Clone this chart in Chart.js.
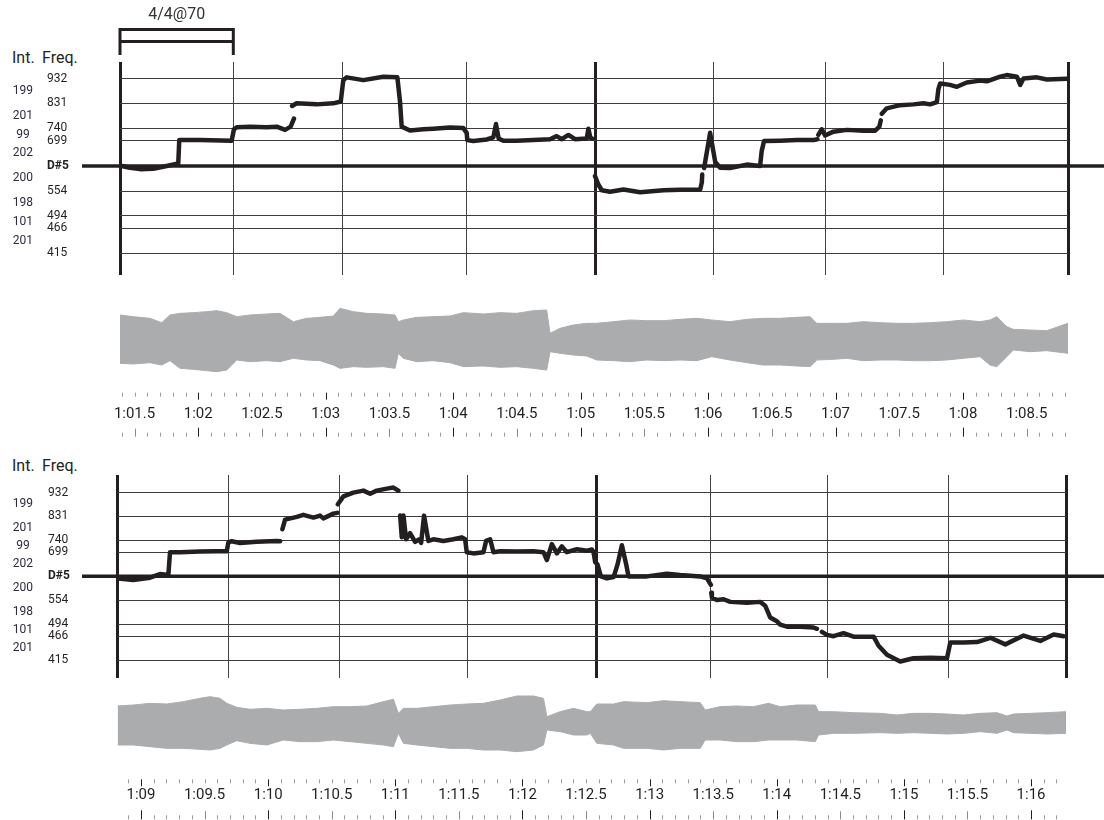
<!DOCTYPE html>
<html>
<head>
<meta charset="utf-8">
<script src="https://cdn.jsdelivr.net/npm/chart.js@4.4.1/dist/chart.umd.min.js"></script>
<style>
  html, body { margin: 0; padding: 0; background: #fff; }
  body { width: 1104px; height: 820px; position: relative; overflow: hidden;
         font-family: Roboto, "Noto Sans", sans-serif; color: #231f20; }
  canvas { position: absolute; left: 0; }
  .hdr { position: absolute; font-size: 16px; line-height: 16px; white-space: nowrap; }
</style>
</head>
<body>
<div class="hdr" style="left:12px;top:50px">Int.</div>
<div class="hdr" style="left:42px;top:50px">Freq.</div>
<div class="hdr" style="left:12px;top:458px">Int.</div>
<div class="hdr" style="left:42px;top:458px">Freq.</div>

<canvas id="pitch1" width="1104" height="290" style="top:0"></canvas>
<canvas id="wave1" width="1104" height="160" style="top:290px"></canvas>
<canvas id="pitch2" width="1104" height="240" style="top:450px"></canvas>
<canvas id="wave2" width="1104" height="140" style="top:680px"></canvas>

<script>
// ---- reference pitches (Hz) and the interval (cents) between neighbouring lines ----
const D5 = 622.25;
const FREQ_LINES  = [932, 831, 740, 699, D5, 554, 494, 466, 415];
const FREQ_LABELS = ['932', '831', '740', '699', 'D#5', '554', '494', '466', '415'];
const INTERVALS   = [199, 201, 99, 202, 200, 198, 101, 201];
const METER = '4/4@70';

// ---- beat times (s); every fourth is a bar line ----
const BEATS_1 = [61.386, 62.275, 63.130, 64.103, 65.113, 66.041, 66.925, 67.846, 68.824];
const BEATS_2 = [68.815, 69.687, 70.560, 71.567, 72.580, 73.482, 74.397, 75.347, 76.275];

// ---- pitch track, first system (time s / frequency Hz, null = unvoiced) ----
const PITCH1_T = [
  61.399, 61.464, 61.543, 61.647, 61.752, 61.843, 61.851, 62.014, 62.262, 62.280,
  62.302, 62.406, 62.537, 62.616, 62.681, 62.725, 62.751, 62.744,
  62.736, 62.772, 62.929, 63.060, 63.118, 63.138, 63.165, 63.295, 63.452, 63.562,
  63.583, 63.596, 63.661, 63.766, 63.844, 63.975, 64.080, 64.106, 64.111, 64.158,
  64.263, 64.315, 64.336, 64.357, 64.394, 64.498, 64.629, 64.760, 64.812, 64.852,
  64.904, 64.956, 65.048, 65.061, 65.077, 65.092, 65.102,
  65.113, 65.139, 65.166, 65.231, 65.336, 65.467, 65.650, 65.781, 65.938, 65.951,
  65.954, 65.961,
  65.969, 66.016, 66.056, 66.095, 66.173, 66.304, 66.408, 66.421, 66.439, 66.565,
  66.696, 66.826, 66.858, 66.861,
  66.865, 66.892, 66.918, 66.983, 67.088, 67.219, 67.311, 67.344, 67.355, 67.359,
  67.363, 67.402, 67.507, 67.611, 67.690, 67.742, 67.795, 67.807, 67.821, 67.899,
  67.952, 68.030, 68.135, 68.187, 68.292, 68.344, 68.423, 68.449, 68.475, 68.580,
  68.658, 68.815
];
const PITCH1_F = [
  622, 617, 613, 614, 622, 629, 701, 701, 699, 737,
  744, 746, 744, 746, 735, 746, 774, null,
  821, 831, 827, 831, 838, 925, 937, 925, 940, 937,
  838, 746, 733, 737, 739, 743, 741, 725, 701, 698,
  703, 710, 755, 706, 699, 699, 701, 704, 714, 704,
  718, 704, 706, 739, 708, 706, null,
  593.5, 571, 556, 552, 558, 551, 556, 557, 558, 576,
  598, null,
  616, 725, 634, 617, 616, 626, 622, 667, 698, 699,
  701, 701, 704, null,
  718, 737, 716, 729, 735, 732, 732, 746, 768, null,
  792, 812, 824, 827, 831, 827, 836, 887, 911, 905,
  897, 915, 923, 920, 940, 947, 940, 905, 932, 937,
  928, 931
];

// ---- pitch track, second system ----
const PITCH2_T = [
  68.821, 68.939, 69.071, 69.149, 69.215, 69.228, 69.307, 69.464, 69.595, 69.674,
  69.687, 69.713, 69.779, 69.910, 70.068, 70.094, 70.103,
  70.112, 70.133, 70.225, 70.277, 70.356, 70.408, 70.434, 70.513, 70.544, 70.546,
  70.548, 70.592, 70.670, 70.749, 70.802, 70.854, 70.933, 70.985, 71.024, 71.031,
  71.038, 71.051, 71.064, 71.085, 71.116, 71.156, 71.190, 71.203, 71.226, 71.260,
  71.300, 71.378, 71.457, 71.523, 71.549, 71.562, 71.614, 71.693, 71.714, 71.746,
  71.772, 71.825, 71.956, 72.086, 72.165, 72.192, 72.231, 72.271, 72.310, 72.349,
  72.428, 72.507, 72.546, 72.559, 72.572, 72.590, 72.617, 72.664, 72.717, 72.748,
  72.782, 72.816, 72.834, 72.979, 73.136, 73.241, 73.398, 73.451, 73.482, 73.484,
  73.485, 73.490, 73.529, 73.582, 73.634, 73.766, 73.870, 73.909, 73.949, 74.001,
  74.027, 74.080, 74.185, 74.289, 74.316, 74.335,
  74.355, 74.394, 74.447, 74.525, 74.604, 74.762, 74.801, 74.867, 74.971, 75.076,
  75.208, 75.339, 75.365, 75.470, 75.575, 75.680, 75.798, 75.942, 76.073, 76.178,
  76.257
];
const PITCH2_F = [
  615.6, 611, 618, 629, 626, 699, 699, 701, 702, 702,
  733, 737, 731, 735, 738, 737, null,
  781, 818, 829, 837, 826, 834, 823, 842, 845, null,
  881, 915, 932, 941, 927, 941, 950, 955, 941, null,
  834, 751, 834, 744, 766, 735, 744, 731, 834, 738,
  744, 738, 744, 751, 744, 699, 695, 699, 738, 744,
  699, 702, 701, 702, 699, 673, 727, 695, 719, 699,
  709, 704, 708, 699, 666, 659, 622, 616, 620, 659,
  723, 659, 622, 622, 630, 626, 622, 616, 597, null,
  575, 562, 555, 557, 550, 548, 550, 540, 510, 501,
  493, 488, 488, 486, 483, null,
  476, 469, 466, 473, 465, 465, 445, 426, 412.5, 419,
  420, 419, 452, 452, 453, 462.5, 448, 467.5, 455.5, 470,
  466
];

// ---- waveform envelopes (time s, normalised peak amplitude above / below zero) ----
const WAVE1_T = [
  61.386, 61.490, 61.621, 61.713, 61.778, 61.857, 61.961, 62.066, 62.145, 62.223,
  62.302, 62.406, 62.537, 62.641, 62.746, 62.851, 62.955, 63.060, 63.112, 63.217,
  63.321, 63.452, 63.544, 63.570, 63.609, 63.714, 63.844, 63.975, 64.080, 64.237,
  64.368, 64.499, 64.629, 64.734, 64.760, 64.838, 64.943, 65.048, 65.126, 65.257,
  65.388, 65.519, 65.650, 65.781, 65.911, 66.029, 66.172, 66.303, 66.434, 66.565,
  66.696, 66.800, 66.853, 66.983, 67.088, 67.218, 67.349, 67.480, 67.611, 67.742,
  67.872, 68.003, 68.134, 68.212, 68.265, 68.344, 68.395, 68.526, 68.657, 68.824
];
const WAVE1_HI = [
  .743, .695, .648, .524, .743, .790, .810, .838, .867, .810,
  .695, .743, .771, .790, .552, .648, .676, .714, .933, .838,
  .790, .771, .743, .552, .600, .676, .695, .714, .810, .771,
  .810, .790, .867, .886, .219, .362, .457, .505, .505, .552,
  .600, .581, .581, .619, .648, .600, .552, .619, .648, .648,
  .676, .695, .505, .505, .505, .552, .524, .505, .505, .524,
  .552, .600, .552, .600, .695, .410, .333, .314, .295, .505
];
const WAVE1_LO = [
  -.638, -.657, -.619, -.686, -.562, -.781, -.810, -.848, -.876, -.829,
  -.543, -.590, -.562, -.590, -.495, -.543, -.562, -.686, -.781, -.733,
  -.752, -.733, -.781, -.352, -.495, -.590, -.562, -.619, -.733, -.714,
  -.752, -.733, -.781, -.829, -.305, -.352, -.400, -.429, -.543, -.562,
  -.590, -.543, -.562, -.543, -.562, -.448, -.543, -.619, -.686, -.686,
  -.714, -.733, -.543, -.524, -.495, -.562, -.543, -.543, -.562, -.562,
  -.543, -.495, -.448, -.686, -.733, -.448, -.257, -.305, -.276, -.352
];

const WAVE2_T = [
  68.815, 68.939, 69.071, 69.202, 69.333, 69.464, 69.543, 69.622, 69.674, 69.753,
  69.857, 69.989, 70.119, 70.251, 70.382, 70.513, 70.644, 70.776, 70.906, 70.985,
  71.024, 71.064, 71.169, 71.300, 71.431, 71.562, 71.693, 71.824, 71.956, 72.086,
  72.165, 72.192, 72.297, 72.401, 72.507, 72.533, 72.585, 72.716, 72.795, 72.979,
  73.109, 73.241, 73.398, 73.437, 73.555, 73.686, 73.817, 73.935, 74.027, 74.159,
  74.303, 74.329, 74.447, 74.604, 74.814, 74.945, 75.076, 75.208, 75.339, 75.470,
  75.601, 75.732, 75.811, 75.863, 75.994, 76.125, 76.275
];
const WAVE2_HI = [
  .543, .571, .619, .600, .667, .762, .810, .762, .619, .505,
  .448, .476, .429, .448, .476, .524, .524, .543, .667, .733,
  .333, .476, .476, .524, .571, .600, .619, .714, .829, .829,
  .762, .238, .381, .476, .381, .381, .600, .600, .667, .638,
  .695, .667, .638, .429, .524, .543, .524, .619, .524, .571,
  .571, .381, .381, .352, .333, .286, .333, .333, .314, .286,
  .333, .352, .257, .314, .333, .352, .381
];
const WAVE2_LO = [
  -.571, -.571, -.619, -.667, -.667, -.695, -.714, -.667, -.571, -.448,
  -.524, -.571, -.429, -.476, -.476, -.429, -.476, -.524, -.571, -.619,
  -.238, -.524, -.571, -.619, -.667, -.667, -.714, -.714, -.762, -.714,
  -.571, -.143, -.190, -.286, -.286, -.238, -.524, -.571, -.667, -.667,
  -.714, -.667, -.667, -.429, -.429, -.476, -.476, -.429, -.429, -.429,
  -.476, -.286, -.238, -.238, -.219, -.238, -.219, -.238, -.257, -.238,
  -.190, -.238, -.143, -.219, -.238, -.257, -.238
];

// ---- styling ----
const FONT = 'Roboto, "Noto Sans", sans-serif';
const INK = '#231f20';
const INT_INK = '#2e2a40';
const GRID = '#3c3c3c';
const BEAT = '#444444';
const WAVE = '#abacae';
const TICK = '#9a9a9a';

// interval labels sit halfway (in pitch) between neighbouring lines
const INT_POS = INTERVALS.map((_, i) => Math.sqrt(FREQ_LINES[i] * FREQ_LINES[i + 1]));

const pairs = (xs, ys) => xs.map((x, i) => ({ x: x, y: ys[i] }));

// keep the plot rectangle exactly where the layout padding puts it
function fixSize(prop, size) {
  return s => {
    s[prop] = size;
    s.paddingTop = 0; s.paddingBottom = 0; s.paddingLeft = 0; s.paddingRight = 0;
  };
}

function fmtTime(v) {
  const r = Math.round(v * 10) / 10;
  if (Math.abs(r * 2 - Math.round(r * 2)) > 1e-6) return '';
  const m = Math.floor(r / 60);
  const s = r - m * 60;
  const whole = Math.floor(s + 1e-6);
  return m + ':' + String(whole).padStart(2, '0') + (s - whole > 0.25 ? '.5' : '');
}

// the D#5 reference line runs past both edges of the plot
function refLine(from, to) {
  return {
    id: 'refLine',
    beforeDatasetsDraw(chart) {
      const y = chart.scales.y.getPixelForValue(D5);
      const ctx = chart.ctx;
      ctx.save();
      ctx.strokeStyle = INK;
      ctx.lineWidth = 3.5;
      ctx.beginPath();
      ctx.moveTo(from, y);
      ctx.lineTo(to, y);
      ctx.stroke();
      ctx.restore();
    }
  };
}

// bracket spanning the first beat, with the metre and tempo above it
const meterBracket = {
  id: 'meterBracket',
  afterDraw(chart) {
    const sx = chart.scales.x;
    const x0 = sx.getPixelForValue(BEATS_1[0]);
    const x1 = sx.getPixelForValue(BEATS_1[1]);
    const ctx = chart.ctx;
    ctx.save();
    ctx.strokeStyle = INK;
    ctx.lineWidth = 3;
    ctx.lineCap = 'butt';
    ctx.beginPath();
    ctx.moveTo(x0, 29.5); ctx.lineTo(x1, 29.5);
    ctx.moveTo(x0, 41.5); ctx.lineTo(x1, 41.5);
    ctx.moveTo(x0, 28); ctx.lineTo(x0, 55);
    ctx.moveTo(x1, 28); ctx.lineTo(x1, 55);
    ctx.stroke();
    ctx.fillStyle = '#333';
    ctx.font = '16px ' + FONT;
    ctx.textAlign = 'center';
    ctx.textBaseline = 'middle';
    ctx.fillText(METER, (x0 + x1) / 2, 15);
    ctx.restore();
  }
};

// two rows of time ruler ticks (tenths of a second) above and below the labels
function ruler(topOff, bottomOff) {
  return {
    id: 'ruler',
    afterDraw(chart) {
      const sx = chart.scales.x;
      const base = chart.chartArea.bottom;
      const ctx = chart.ctx;
      ctx.save();
      ctx.lineWidth = 1;
      sx.ticks.forEach(tk => {
        const k = Math.round(tk.value * 10);
        const x = Math.round(sx.getPixelForValue(tk.value)) + 0.5;
        const whole = k % 10 === 0;
        const half = k % 5 === 0;
        ctx.strokeStyle = whole ? INK : TICK;
        ctx.beginPath();
        ctx.moveTo(x, base + topOff);
        ctx.lineTo(x, base + topOff + (whole ? 7 : 4));
        ctx.stroke();
        const len = whole ? 9 : (half ? 8 : 4);
        ctx.strokeStyle = whole ? INK : (half ? '#8a8a8a' : TICK);
        ctx.beginPath();
        ctx.moveTo(x, base + bottomOff - len);
        ctx.lineTo(x, base + bottomOff);
        ctx.stroke();
      });
      ctx.restore();
    }
  };
}

const baseOptions = {
  responsive: false,
  animation: false,
  events: [],
  plugins: { legend: { display: false }, tooltip: { enabled: false }, title: { display: false } }
};

function pitchChart(id, o) {
  return new Chart(document.getElementById(id), {
    type: 'line',
    data: {
      datasets: [{
        data: pairs(o.times, o.freqs),
        yAxisID: 'y',
        borderColor: INK,
        borderWidth: 4.5,
        borderCapStyle: 'round',
        borderJoinStyle: 'round',
        pointRadius: 0,
        tension: 0,
        spanGaps: false
      }]
    },
    options: Object.assign({}, baseOptions, {
      layout: { padding: o.padding },
      scales: {
        x: {
          type: 'linear',
          min: o.beats[0],
          max: o.beats[o.beats.length - 1],
          afterBuildTicks: s => { s.ticks = o.beats.map(v => ({ value: v })); },
          afterFit: fixSize('height', 0),
          ticks: { display: false },
          border: { display: false },
          grid: {
            drawTicks: false,
            lineWidth: c => (c.index % 4 === 0 ? 3 : 1),
            color: c => (c.index % 4 === 0 ? INK : BEAT)
          }
        },
        yInt: {
          type: 'logarithmic',
          position: 'left',
          weight: 10,
          min: o.yMin,
          max: o.yMax,
          afterBuildTicks: s => { s.ticks = INT_POS.map(v => ({ value: v })); },
          afterFit: fixSize('width', o.intWidth),
          border: { display: false },
          grid: { display: false, drawTicks: false },
          ticks: {
            autoSkip: false,
            crossAlign: 'center',
            padding: o.intPad,
            color: INT_INK,
            font: { family: FONT, size: 12 },
            callback: (v, i) => String(INTERVALS[i])
          }
        },
        y: {
          type: 'logarithmic',
          position: 'left',
          weight: 0,
          min: o.yMin,
          max: o.yMax,
          afterBuildTicks: s => { s.ticks = FREQ_LINES.map(v => ({ value: v })); },
          afterFit: fixSize('width', o.freqWidth),
          border: { display: false },
          grid: {
            drawTicks: false,
            lineWidth: 1,
            color: c => (c.tick && c.tick.value === D5 ? 'rgba(0,0,0,0)' : GRID)
          },
          ticks: {
            autoSkip: false,
            crossAlign: 'far',
            color: INK,
            font: c => ({ family: FONT, size: 12, weight: (c.tick && c.tick.value === D5) ? 'bold' : 'normal' }),
            callback: (v, i) => FREQ_LABELS[i]
          }
        }
      }
    }),
    plugins: o.plugins
  });
}

function waveChart(id, o) {
  return new Chart(document.getElementById(id), {
    type: 'line',
    data: {
      datasets: [
        { data: pairs(o.t, o.hi), fill: '+1', backgroundColor: WAVE, borderColor: WAVE,
          borderWidth: 1, pointRadius: 0, tension: 0 },
        { data: pairs(o.t, o.lo), fill: false, borderColor: WAVE,
          borderWidth: 1, pointRadius: 0, tension: 0 }
      ]
    },
    options: Object.assign({}, baseOptions, {
      layout: { padding: o.padding },
      scales: {
        x: {
          type: 'linear',
          min: o.range[0],
          max: o.range[1],
          afterBuildTicks: s => {
            const ticks = [];
            for (let k = Math.ceil(s.min * 10 - 1e-6); k <= Math.floor(s.max * 10 + 1e-6); k++) {
              ticks.push({ value: k / 10 });
            }
            s.ticks = ticks;
          },
          afterFit: fixSize('height', o.axisHeight),
          border: { display: false },
          grid: { display: false, drawTicks: false },
          ticks: {
            autoSkip: false,
            maxRotation: 0,
            padding: o.labelPad,
            color: INK,
            font: { family: FONT, size: 15 },
            callback: v => fmtTime(v)
          }
        },
        y: { display: false, min: -1, max: 1 }
      }
    }),
    plugins: [ruler(o.rulerTop, o.rulerBottom)]
  });
}

pitchChart('pitch1', {
  times: PITCH1_T, freqs: PITCH1_F, beats: BEATS_1,
  yMin: 375.7, yMax: 1006,
  padding: { top: 62, bottom: 15, left: 0, right: 36 },
  intWidth: 47, intPad: 14, freqWidth: 73,
  plugins: [refLine(82, 1104), meterBracket]
});

waveChart('wave1', {
  t: WAVE1_T, hi: WAVE1_HI, lo: WAVE1_LO,
  range: [BEATS_1[0], BEATS_1[BEATS_1.length - 1]],
  padding: { top: 16, bottom: 14, left: 120, right: 36 },
  axisHeight: 60, labelPad: 29, rulerTop: 16.7, rulerBottom: 60.7
});

pitchChart('pitch2', {
  times: PITCH2_T, freqs: PITCH2_F, beats: BEATS_2,
  yMin: 380.9, yMax: 1014.6,
  padding: { top: 25, bottom: 12, left: 0, right: 38 },
  intWidth: 48, intPad: 15, freqWidth: 69.5,
  plugins: [refLine(82, 1104)]
});

waveChart('wave2', {
  t: WAVE2_T, hi: WAVE2_HI, lo: WAVE2_LO,
  range: [BEATS_2[0], BEATS_2[BEATS_2.length - 1]],
  padding: { top: 10, bottom: 10, left: 117.5, right: 38 },
  axisHeight: 50, labelPad: 26.5, rulerTop: 19.3, rulerBottom: 59.3
});
</script>
</body>
</html>
